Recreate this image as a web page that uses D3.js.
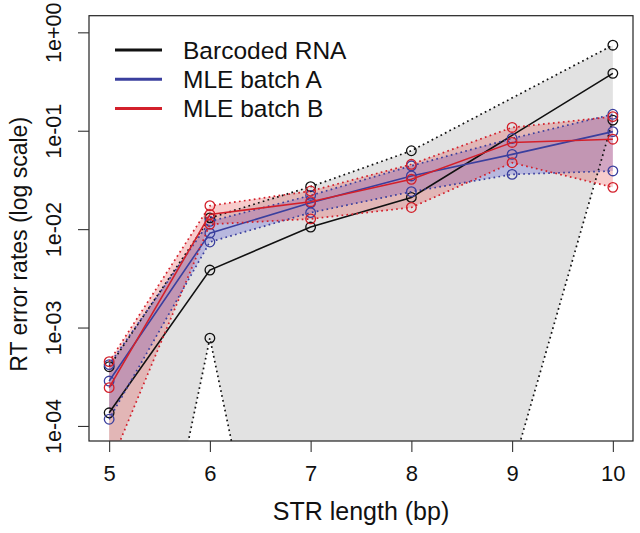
<!DOCTYPE html>
<html><head><meta charset="utf-8">
<script src="https://cdn.jsdelivr.net/npm/d3@7"></script>
<style>
body{margin:0;background:#fff;}
svg{display:block;font-family:"Liberation Sans",Arial,Helvetica,sans-serif;}
</style></head>
<body><svg id="chart" width="640" height="533"></svg>
<script>
// ---- data ----
const lengths = [5, 6, 7, 8, 9, 10];
const yTicks = [1e-4, 1e-3, 1e-2, 1e-1, 1];
const yTickLabels = ["1e-04", "1e-03", "1e-02", "1e-01", "1e+00"];

const rnaX     = [5, 6, 7, 8, 10];
const rnaMean  = [1.36e-4, 3.84e-3, 1.05e-2, 2.10e-2, 0.383];
const rnaUpper = [4.0e-4, 1.3e-2, 2.70e-2, 6.26e-2, 0.74];
const rnaLower = [1e-8, 7.8e-4, 1e-8, 1e-8, 0.128];

const aMean  = [2.86e-4, 9.1e-3, 1.85e-2, 3.47e-2, 5.75e-2, 9.8e-2];
const aUpper = [4.2e-4, 1.2e-2, 2.2e-2, 4.4e-2, 8.35e-2, 0.147];
const aLower = [1.17e-4, 7.4e-3, 1.47e-2, 2.40e-2, 3.6e-2, 3.9e-2];

const bMean  = [2.45e-4, 1.41e-2, 1.9e-2, 3.21e-2, 7.6e-2, 8.2e-2];
const bUpper = [4.5e-4, 1.73e-2, 2.44e-2, 4.56e-2, 0.108, 0.139];
const bLower = [3.8e-5, 1.12e-2, 1.27e-2, 1.66e-2, 4.73e-2, 2.66e-2];

const legendLabels = ["Barcoded RNA", "MLE batch A", "MLE batch B"];
const colors = ["#111111", "#3a3f9e", "#d3202b"];

// ---- layout ----
const L = 89, R = 633, T = 15.7, B = 441;
const svg = d3.select("#chart");
const x = d3.scaleLinear().domain([4.8, 10.2]).range([L, R]);
const y = d3.scaleLog().domain([Math.pow(10, -4.153), Math.pow(10, 0.169)]).range([B, T]);

svg.append("defs").append("clipPath").attr("id", "clip")
  .append("rect").attr("x", L).attr("y", T).attr("width", R - L).attr("height", B - T);

const plot = svg.append("g").attr("clip-path", "url(#clip)");

function series(xs, vals) { return xs.map((v, i) => [v, vals[i]]); }
const line = d3.line().x(d => x(d[0])).y(d => y(d[1]));
const area = d3.area().x(d => x(d[0])).y0(d => y(d[1])).y1(d => y(d[2]));
function band(xs, lo, hi) { return xs.map((v, i) => [v, lo[i], hi[i]]); }

// bands
plot.append("path").attr("d", area(band(rnaX, rnaLower, rnaUpper)))
  .attr("fill", "#e2e2e2");
plot.append("path").attr("d", area(band(lengths, aLower, aUpper)))
  .attr("fill", "rgba(70,70,210,0.27)");
plot.append("path").attr("d", area(band(lengths, bLower, bUpper)))
  .attr("fill", "rgba(225,40,40,0.24)");

const groups = [
  {xs: rnaX, mean: rnaMean, up: rnaUpper, lo: rnaLower, c: colors[0]},
  {xs: lengths, mean: aMean, up: aUpper, lo: aLower, c: colors[1]},
  {xs: lengths, mean: bMean, up: bUpper, lo: bLower, c: colors[2]}
];

groups.forEach(g => {
  [g.up, g.lo].forEach(arr => {
    plot.append("path").attr("d", line(series(g.xs, arr)))
      .attr("fill", "none").attr("stroke", g.c).attr("stroke-width", 1.7)
      .attr("stroke-dasharray", "1.7,3.3");
  });
  plot.append("path").attr("d", line(series(g.xs, g.mean)))
    .attr("fill", "none").attr("stroke", g.c).attr("stroke-width", 1.6);
  [g.up, g.mean, g.lo].forEach(arr => {
    plot.selectAll(null).data(series(g.xs, arr)).enter().append("circle")
      .attr("cx", d => x(d[0])).attr("cy", d => y(d[1])).attr("r", 4.8)
      .attr("fill", "none").attr("stroke", g.c).attr("stroke-width", 1.3);
  });
});

// box
svg.append("rect").attr("x", L).attr("y", T).attr("width", R - L).attr("height", B - T)
  .attr("fill", "none").attr("stroke", "#222").attr("stroke-width", 1.2);

// x axis
const xa = svg.append("g").attr("transform", `translate(0,${B})`)
  .call(d3.axisBottom(x).tickValues(lengths).tickSize(11).tickPadding(13).tickFormat(d3.format("d")));
xa.select(".domain").remove();
xa.selectAll("line").attr("stroke", "#333").attr("stroke-width", 1.1);
xa.selectAll("text").attr("font-size", 22).attr("fill", "#111").attr("font-family", "Liberation Sans, Arial, sans-serif");

// y axis
const ya = svg.append("g").attr("transform", `translate(${L},0)`)
  .call(d3.axisLeft(y).tickValues(yTicks).tickSize(11).tickFormat((d, i) => yTickLabels[i]));
ya.select(".domain").remove();
ya.selectAll("line").attr("stroke", "#333").attr("stroke-width", 1.1);
ya.selectAll("text").attr("font-size", 21.5).attr("fill", "#111")
  .attr("font-family", "Liberation Sans, Arial, sans-serif")
  .attr("text-anchor", "middle").attr("x", 0).attr("dy", 0)
  .attr("transform", "translate(-28,0) rotate(-90)");

// axis titles
svg.append("text").attr("x", (x(5) + x(10)) / 2).attr("y", 520)
  .attr("text-anchor", "middle").attr("font-size", 25).attr("fill", "#111")
  .text("STR length (bp)");
svg.append("text").attr("transform", `translate(27,${(T + B) / 2 + 16}) rotate(-90)`)
  .attr("text-anchor", "middle").attr("font-size", 23).attr("fill", "#111")
  .text("RT error rates (log scale)");

// legend
const lg = svg.append("g");
legendLabels.forEach((lab, i) => {
  const yy = 50 + i * 29.2;
  lg.append("line").attr("x1", 115).attr("x2", 162).attr("y1", yy).attr("y2", yy)
    .attr("stroke", colors[i]).attr("stroke-width", 3);
  lg.append("text").attr("x", 183).attr("y", yy + 8.5).attr("font-size", 24.5).attr("fill", "#111")
    .text(lab);
});
</script></body></html>
